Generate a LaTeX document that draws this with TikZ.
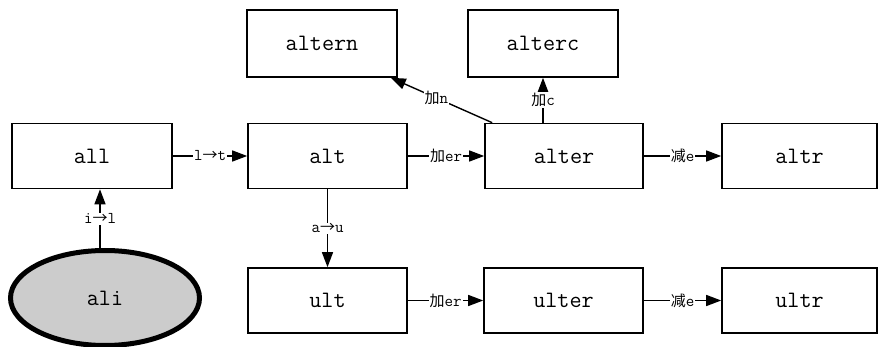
\documentclass[tikz,border=0pt]{standalone}
\usepackage{fontspec}
\newfontfamily\boxfont{Latin Modern Mono}
\newfontfamily\cjk{Noto Sans CJK SC}
\newcommand{\jia}{{\cjk\fontsize{15}{15}\selectfont 加}}
\newcommand{\jian}{{\cjk\fontsize{15}{15}\selectfont 减}}
\newcommand{\rarr}{{\cjk\fontsize{15}{15}\selectfont →}}
\usetikzlibrary{arrows.meta,calc,shapes.geometric}
\begin{document}
\begin{tikzpicture}[x=1pt,y=-1pt,
  box/.style={draw, line width=1.6pt, minimum width=158pt, minimum height=65pt, inner sep=0pt,
    font=\boxfont\fontsize{23.5}{24}\selectfont},
  conn/.style={line width=1.4pt, -{Triangle[length=15pt,width=11pt]}},
  lab/.style={fill=white, inner sep=1pt, font=\boxfont\fontsize{16.5}{17}\selectfont},
  oval/.style={draw, ellipse, line width=5pt, fill=black!20, minimum width=189pt, minimum height=95pt,
    inner sep=0pt, font=\boxfont\fontsize{23.5}{24}\selectfont}]
\fill[white] (0,0) rectangle (878,347);
\useasboundingbox (0,0) rectangle (878,347);
% nodes
\node[box, minimum width=150pt, minimum height=67pt] (altern) at (322,43.5) {altern};
\node[box, minimum width=150pt, minimum height=67pt] (alterc) at (543,43.5) {alterc};
\node[box, minimum width=160pt] (all) at (92,156) {all};
\node[box, minimum width=159pt] (alt) at (327.5,156) {alt};
\node[box] (alter) at (564,156) {alter};
\node[box, minimum width=155pt] (altr) at (799.5,156) {altr};
\node[oval] (ali) at (105,298) {ali};
\node[box, minimum width=159pt] (ult) at (327.5,300.5) {ult};
\node[box, minimum width=159pt] (ulter) at (563.5,300.5) {ulter};
\node[box, minimum width=155pt] (ultr) at (799.5,300.5) {ultr};
% connectors
\draw[conn] (all) -- node[lab] {l\rarr t} (alt);
\draw[conn] (alt) -- node[lab] {\jia er} (alter);
\draw[conn] (alter) -- node[lab] {\jian e} (altr);
\draw[conn] (ult) -- node[lab] {\jia er} (ulter);
\draw[conn] (ulter) -- node[lab] {\jian e} (ultr);
\draw[conn] ($(ali.north)+(-5,0)$) -- node[lab] {i\rarr l} ($(all.south)+(8,0)$);
\draw[conn] (alt) -- node[lab] {a\rarr u} (ult);
\draw[conn] ($(alter.north west)+(8,0)$) -- node[lab, pos=0.55] {\jia n} ($(altern.south east)+(-7,0)$);
\draw[conn] (alterc.south |- alter.north) -- node[lab] {\jia c} (alterc.south);
\end{tikzpicture}
\end{document}
